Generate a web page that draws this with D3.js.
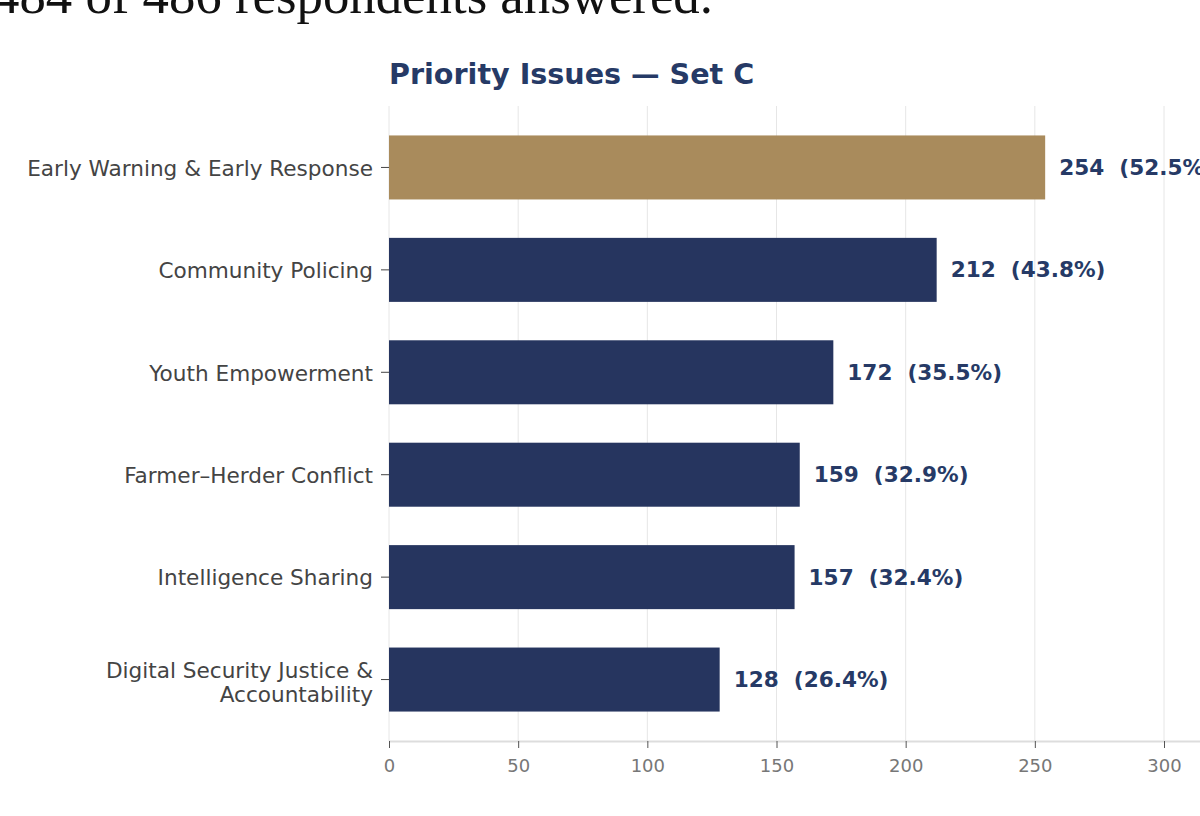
<!DOCTYPE html>
<html>
<head>
<meta charset="utf-8">
<script src="https://cdn.jsdelivr.net/npm/d3@7"></script>
<style>
  html, body { margin: 0; padding: 0; background: #fff; }
  svg { display: block; }
</style>
</head>
<body>
<svg id="chart" width="1200" height="816"></svg>
<script>
const categories = [
  "Early Warning & Early Response",
  "Community Policing",
  "Youth Empowerment",
  "Farmer–Herder Conflict",
  "Intelligence Sharing",
  "Digital Security Justice & Accountability"
];
const counts = [254, 212, 172, 159, 157, 128];
const percents = ["52.5%", "43.8%", "35.5%", "32.9%", "32.4%", "26.4%"];
const xTicks = [0, 50, 100, 150, 200, 250, 300];
const chartTitle = "Priority Issues — Set C";
const headerText = "484 of 486 respondents answered.";

(function() {
const svg = d3.select("#chart");
const mLeft = 389, mRight = 1164, mTop = 106, mBottom = 741;

const x = d3.scaleLinear().domain([0, 300]).range([mLeft, mRight]);
const y = d3.scaleBand().domain(categories).range([mTop, mBottom])
  .paddingInner(0.375).paddingOuter(0.2875);

// header text (cut off at top)
svg.append("text")
  .attr("x", -7).attr("y", 13)
  .attr("font-family", "'Liberation Serif', 'Times New Roman', serif")
  .attr("font-size", 52.8)
  .attr("fill", "#111")
  .text(headerText);

// title
svg.append("text")
  .attr("x", mLeft).attr("y", 84)
  .attr("font-family", "'DejaVu Sans', sans-serif")
  .attr("font-weight", "bold")
  .attr("font-size", 28.6)
  .attr("fill", "#263a66")
  .text(chartTitle);

// grid
svg.append("g").selectAll("line").data(xTicks).join("line")
  .attr("x1", d => x(d)).attr("x2", d => x(d))
  .attr("y1", mTop).attr("y2", mBottom)
  .attr("stroke", "#e6e6e6").attr("stroke-width", 1);

// bars
svg.append("g").selectAll("rect").data(categories).join("rect")
  .attr("x", x(0))
  .attr("y", d => y(d))
  .attr("width", (d, i) => x(counts[i]) - x(0))
  .attr("height", y.bandwidth())
  .attr("fill", (d, i) => i === 0 ? "#a98b5c" : "#26355f");

// value labels
svg.append("g").selectAll("text").data(categories).join("text")
  .attr("x", (d, i) => x(counts[i]) + 14)
  .attr("y", d => y(d) + y.bandwidth() / 2)
  .attr("dy", "0.35em")
  .attr("font-family", "'DejaVu Sans', sans-serif")
  .attr("font-weight", "bold")
  .attr("font-size", 21.6)
  .attr("fill", "#263a66")
  .attr("xml:space", "preserve")
  .style("white-space", "pre")
  .text((d, i) => counts[i] + "  (" + percents[i] + ")");

// x axis
const xAxis = svg.append("g").attr("transform", `translate(0,${mBottom})`)
  .call(d3.axisBottom(x).tickValues(xTicks).tickSize(7).tickPadding(11).tickFormat(d3.format("d")));
xAxis.select(".domain").attr("stroke", "#dddddd").attr("stroke-width", 2)
  .attr("d", `M${mLeft},0.5H${mRight + 40}`);
xAxis.selectAll(".tick line").attr("stroke", "#555");
xAxis.selectAll(".tick text")
  .attr("font-family", "'DejaVu Sans', sans-serif")
  .attr("font-size", 18)
  .attr("fill", "#777");

// y axis
const yAxis = svg.append("g").attr("transform", `translate(${mLeft},0)`)
  .call(d3.axisLeft(y).tickSize(8).tickPadding(8));
yAxis.select(".domain").remove();
yAxis.selectAll(".tick line").attr("stroke", "#444");
yAxis.selectAll(".tick text")
  .attr("font-family", "'DejaVu Sans', sans-serif")
  .attr("font-size", 21.6)
  .attr("fill", "#444")
  .attr("dy", "0.38em")
  .each(function(d) {
    const t = d3.select(this);
    if (d === "Digital Security Justice & Accountability") {
      t.text(null);
      t.append("tspan").attr("x", -16).attr("dy", "-0.05em").text("Digital Security Justice &");
      t.append("tspan").attr("x", -16).attr("dy", "1.07em").text("Accountability");
    }
  });
})();
</script>
</body>
</html>
